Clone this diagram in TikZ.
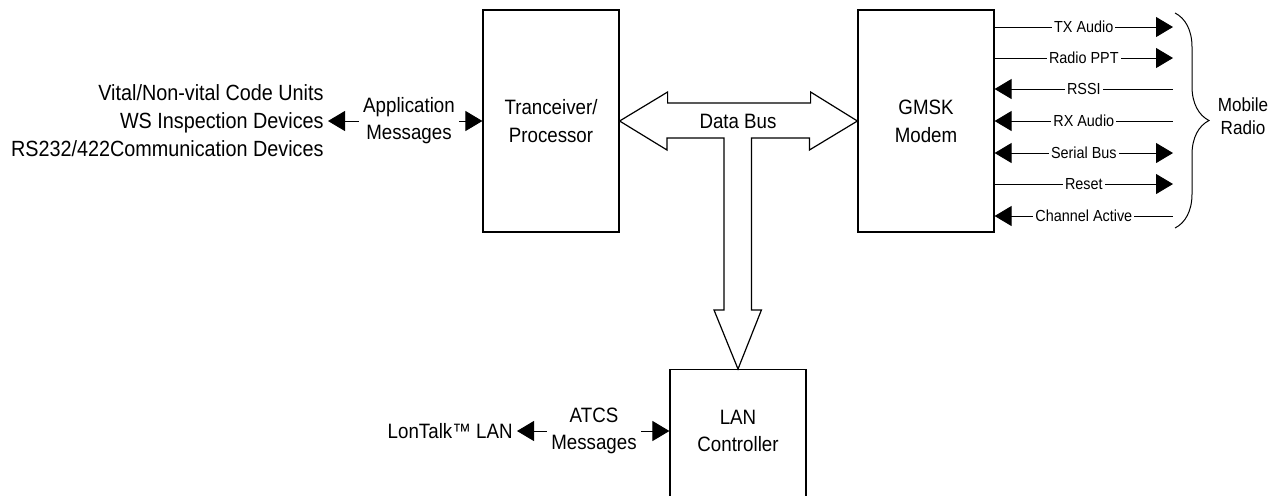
\documentclass[tikz,border=0pt]{standalone}
\usepackage{fontspec}
\setmainfont{Liberation Sans}[FakeStretch=0.9]
\usetikzlibrary{positioning, arrows.meta, decorations.pathreplacing}
\tikzset{>={Triangle[length=8.5pt,width=10pt]}}

\begin{document}
\begin{tikzpicture}[x=0.5pt, y=-0.5pt, block/.style={rectangle, draw=black, line width=0.6pt, minimum width=68pt, minimum height=111pt, align=center, font=\fontsize{10.4}{14}\selectfont, inner sep=0pt}, plain/.style={draw=none, fill=none, align=center, font=\fontsize{10.4}{13.5}\selectfont, inner sep=2pt}, sig/.style={line width=0.5pt}, sigtext/.style={fill=white, font=\fontsize{8}{9}\selectfont, inner sep=1pt}]

    \useasboundingbox (0,0) rectangle (1284,495);

    %Blocks
    \node[block](proc) at (551,121){Tranceiver/\\Processor};
    \node[block](modem) at (926,121){GMSK\\Modem};
    \node[block, minimum height=70pt, anchor=north](lan) at (738,369){};
    \node[plain](lantext) at (738,431){LAN\\Controller};

    %Data bus
    \draw[line width=0.6pt, fill=white] (proc.east) -- ++(48,-29) -- ++(0,11) -- ++(143,0) -- ++(0,-11) -- (modem.west) -- ++(-48,29) -- ++(0,-12) -- ++(-58,0) -- ++(0,172) -- ++(10,0) -- (lan.north) -- ++(-24,-59) -- ++(10,0) -- ++(0,-172) -- ++(-57,0) -- ++(0,12) -- cycle;
    \node[plain](bus) at (738,121){Data Bus};

    %Left side
    \node[plain, anchor=east, align=right, font=\fontsize{11}{14}\selectfont](devices) at (328,121){Vital/Non-vital Code Units\\WS Inspection Devices\\RS232/422Communication Devices};
    \node[plain](appmsg) at (409,121){Application\\Messages};
    \draw[sig,->] (appmsg.west) -- (devices.east);
    \draw[sig,->] (appmsg.east) -- (proc.west);

    %Bottom
    \node[plain](atcs) at (594,431){ATCS\\Messages};
    \node[plain, anchor=east](lontalk) at (517,431){LonTalk™ LAN};
    \draw[sig,->] (atcs.west) -- (lontalk.east);
    \draw[sig,->] (atcs.east) -- (lan.west |- atcs.east);

    %Mobile radio lines
    \foreach \lbl/\row/\dir in {TX Audio/27/->, Radio PPT/58/->, RSSI/89/<-, RX Audio/121/<-, Serial Bus/153/<->, Reset/184/->, Channel Active/216/<-}
    {
        \coordinate (radio\row) at (1173,\row);
        \draw[sig,\dir] (modem.east |- radio\row) -- node[sigtext]{\lbl} (radio\row);
    }

    %Brace
    \coordinate (bracetop) at (1175,13);
    \coordinate (bracebot) at (1175,228);
    \draw[sig, decorate, decoration={brace, amplitude=17pt}] (bracetop) -- (bracebot);
    \node[plain, font=\fontsize{9.5}{11.5}\selectfont](mobile) at (1243,116){Mobile\\Radio};

\end{tikzpicture}
\end{document}
